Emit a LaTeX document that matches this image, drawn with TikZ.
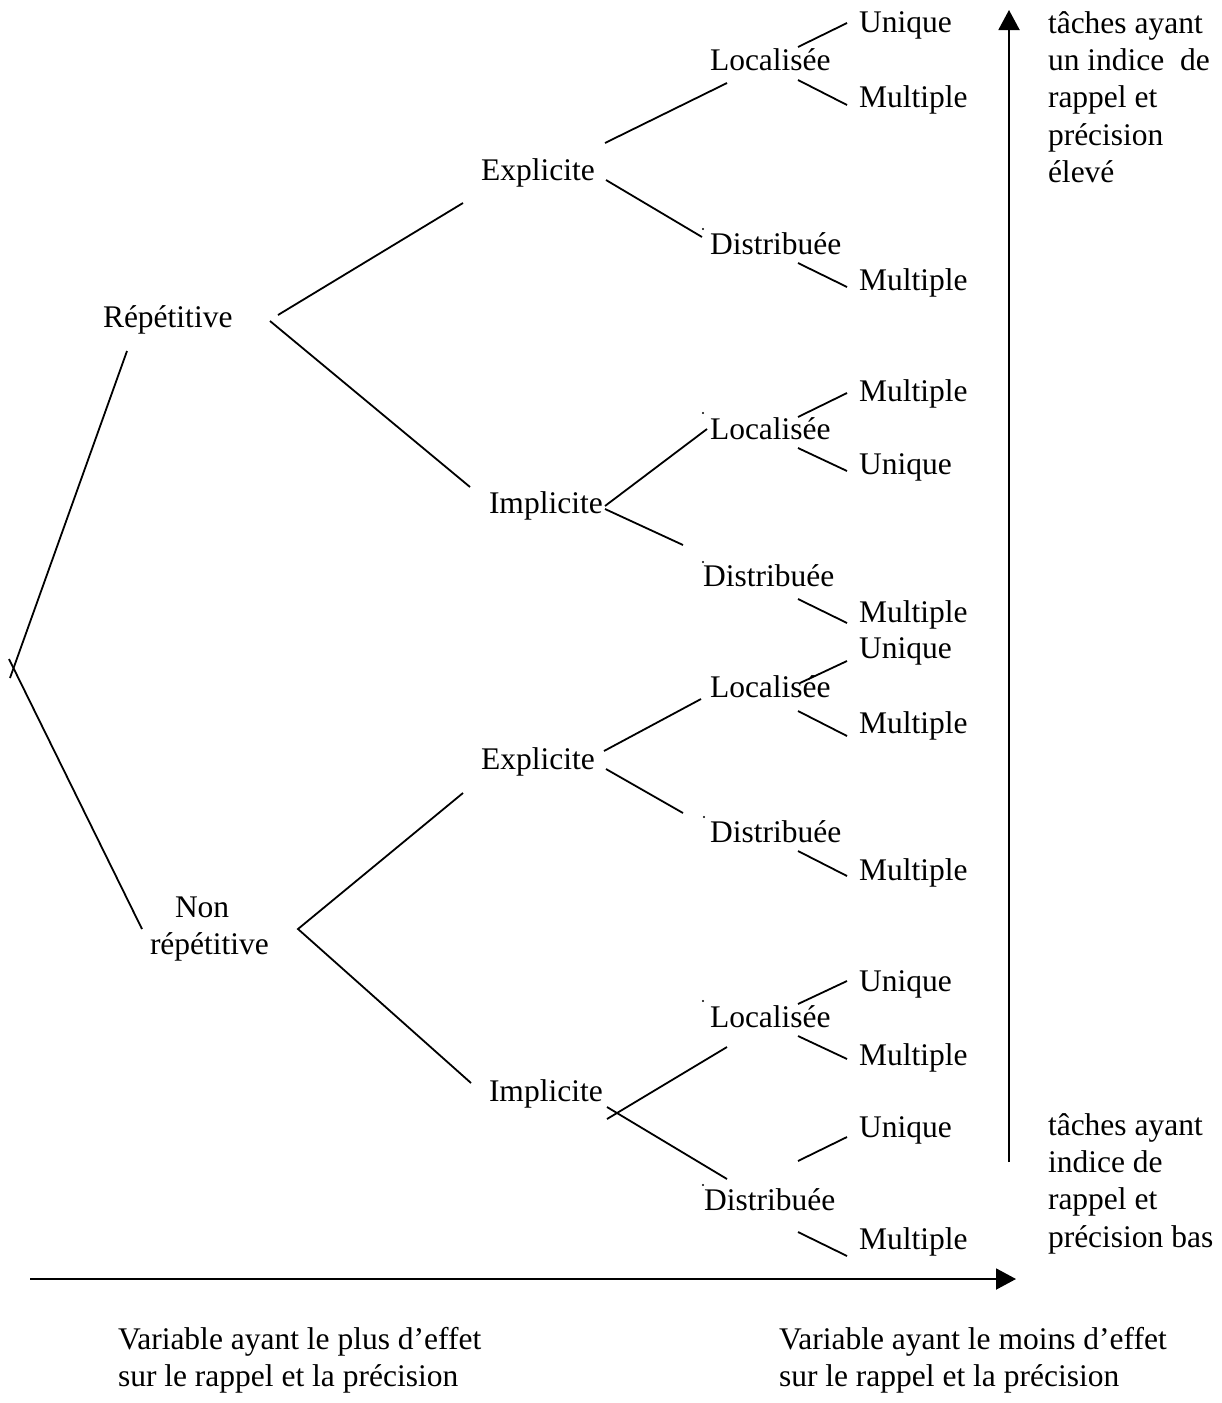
\documentclass[tikz,border=0pt]{standalone}
\usepackage{fontspec}
\setmainfont{Liberation Serif}
\usetikzlibrary{arrows.meta}
\begin{document}
\begin{tikzpicture}[x=1pt,y=-1pt,
  lbl/.style={anchor=base west,inner sep=0pt,outer sep=0pt,font=\fontsize{31.5}{37.4}\selectfont},
  br/.style={line width=1.8pt,line cap=butt},
  axis/.style={line width=2pt,-{Triangle[length=20pt,width=21pt]}},
  dotmark/.style={fill=black,draw=none}]
\useasboundingbox (0,0) rectangle (1222,1403);
% ---- labels ----
\node[lbl] (rep) at (103,327) {Répétitive};
\node[lbl] (nrep) at (150,917) {\begin{tabular}[t]{@{}l@{}}\hspace{25pt}Non\\répétitive\end{tabular}};
\node[lbl] (exp1) at (481,180) {Explicite};
\node[lbl] (imp1) at (489,513) {Implicite};
\node[lbl] (exp2) at (481,769) {Explicite};
\node[lbl] (imp2) at (489,1101) {Implicite};
\node[lbl] (loc1) at (710,70) {Localisée};
\node[lbl] (dis1) at (710,254) {Distribuée};
\node[lbl] (loc2) at (710,439) {Localisée};
\node[lbl] (dis2) at (703,586) {Distribuée};
\node[lbl] (loc3) at (710,697) {Localisée};
\node[lbl] (dis3) at (710,842) {Distribuée};
\node[lbl] (loc4) at (710,1027) {Localisée};
\node[lbl] (dis4) at (704,1210) {Distribuée};
\node[lbl] (u1) at (859,32) {Unique};
\node[lbl] (m1) at (859,107) {Multiple};
\node[lbl] (m2) at (859,290) {Multiple};
\node[lbl] (m3) at (859,401) {Multiple};
\node[lbl] (u2) at (859,474) {Unique};
\node[lbl] (m4) at (859,622) {Multiple};
\node[lbl] (u3) at (859,658) {Unique};
\node[lbl] (m5) at (859,733) {Multiple};
\node[lbl] (m6) at (859,880) {Multiple};
\node[lbl] (u4) at (859,991) {Unique};
\node[lbl] (m7) at (859,1065) {Multiple};
\node[lbl] (u5) at (859,1137) {Unique};
\node[lbl] (m8) at (859,1249) {Multiple};
\node[lbl] (high) at (1048,33) {\begin{tabular}[t]{@{}l@{}}tâches ayant\\un indice\ \ de\\rappel et\\précision\\élevé\end{tabular}};
\node[lbl] (low) at (1048,1135) {\begin{tabular}[t]{@{}l@{}}tâches ayant\\indice de\\rappel et\\précision bas\end{tabular}};
\node[lbl] (capL) at (118,1349) {\begin{tabular}[t]{@{}l@{}}Variable ayant le plus d’effet\\sur le rappel et la précision\end{tabular}};
\node[lbl] (capR) at (779,1349) {\begin{tabular}[t]{@{}l@{}}Variable ayant le moins d’effet\\sur le rappel et la précision\end{tabular}};
% ---- connector end points ----
\coordinate (r1a) at (127,351);  \coordinate (r1b) at (10,678);
\coordinate (r2a) at (9,659);    \coordinate (r2b) at (142,929);
\coordinate (re1) at (278,315);  \coordinate (e1w) at (463,203);
\coordinate (ri1) at (270,321);  \coordinate (i1w) at (470,487);
\coordinate (e1l) at (605,143);  \coordinate (l1w) at (727,83);
\coordinate (e1d) at (606,180);  \coordinate (d1w) at (702,237);
\coordinate (l1u) at (798,47);   \coordinate (u1w) at (847,23);
\coordinate (l1m) at (798,80);   \coordinate (m1w) at (847,105);
\coordinate (d1m) at (798,263);  \coordinate (m2w) at (847,287);
\coordinate (i1l) at (605,506);  \coordinate (l2w) at (707,429);
\coordinate (i1d) at (605,509);  \coordinate (d2w) at (683,545);
\coordinate (l2m) at (798,417);  \coordinate (m3w) at (847,393);
\coordinate (l2u) at (798,448);  \coordinate (u2w) at (847,471);
\coordinate (d2m) at (798,599);  \coordinate (m4w) at (847,623);
\coordinate (ne) at (298,929);   \coordinate (e2w) at (463,793);
                                 \coordinate (i2w) at (471,1083);
\coordinate (e2l) at (604,751);  \coordinate (l3w) at (701,699);
\coordinate (e2d) at (606,769);  \coordinate (d3w) at (683,813);
\coordinate (l3u) at (800,683);  \coordinate (u3w) at (847,661);
\coordinate (l3m) at (798,711);  \coordinate (m5w) at (847,736);
\coordinate (d3m) at (798,851);  \coordinate (m6w) at (847,876);
\coordinate (i2l) at (607,1119); \coordinate (l4w) at (727,1047);
\coordinate (i2d) at (607,1107); \coordinate (d4w) at (727,1179);
\coordinate (l4u) at (798,1004); \coordinate (u4w) at (847,981);
\coordinate (l4m) at (798,1036); \coordinate (m7w) at (847,1059);
\coordinate (d4u) at (798,1161); \coordinate (u5w) at (847,1137);
\coordinate (d4m) at (798,1232); \coordinate (m8w) at (847,1256);
\coordinate (vs) at (1009,1162); \coordinate (ve) at (1009,10);
\coordinate (hs) at (30,1279);   \coordinate (he) at (1016,1279);
% ---- branches ----
\draw[br] (r1a) -- (r1b);
\draw[br] (r2a) -- (r2b);
\draw[br] (re1) -- (e1w);
\draw[br] (ri1) -- (i1w);
\draw[br] (e1l) -- (l1w);
\draw[br] (e1d) -- (d1w);
\draw[br] (l1u) -- (u1w);
\draw[br] (l1m) -- (m1w);
\draw[br] (d1m) -- (m2w);
\draw[br] (i1l) -- (l2w);
\draw[br] (i1d) -- (d2w);
\draw[br] (l2m) -- (m3w);
\draw[br] (l2u) -- (u2w);
\draw[br] (d2m) -- (m4w);
\draw[br] (e2w) -- (ne) -- (i2w);
\draw[br] (e2l) -- (l3w);
\draw[br] (e2d) -- (d3w);
\draw[br] (l3u) -- (u3w);
\draw[br] (l3m) -- (m5w);
\draw[br] (d3m) -- (m6w);
\draw[br] (i2l) -- (l4w);
\draw[br] (i2d) -- (d4w);
\draw[br] (l4u) -- (u4w);
\draw[br] (l4m) -- (m7w);
\draw[br] (d4u) -- (u5w);
\draw[br] (d4m) -- (m8w);
% ---- stray dots ----
\foreach \p in {(703,229),(703,413),(703,562),(704,817),(703,1001),(703,1185)}
  \fill[dotmark] \p circle (1.1pt);
% ---- axes ----
\draw[axis] (vs) -- (ve);
\draw[axis] (hs) -- (he);
\end{tikzpicture}
\end{document}
